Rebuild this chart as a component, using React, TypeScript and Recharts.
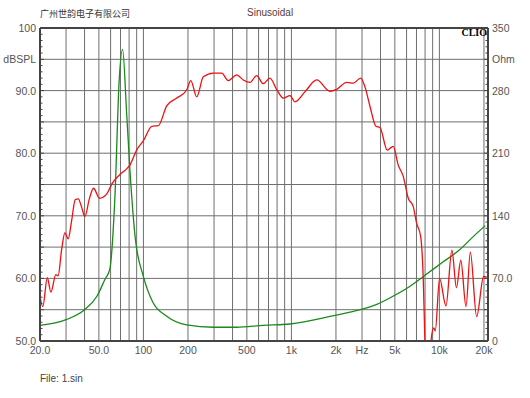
import { LineChart, Line, XAxis, YAxis, CartesianGrid, ReferenceLine } from "recharts";

// SPL response (Hz, dBSPL)
const splFreq = [
  20, 20.9, 22.4, 23.7, 25.6, 26.5, 28, 29.5, 31, 32.8, 34.6, 36.3, 38.1, 40.2, 43.1, 46, 50.5, 56.6,
  61.2, 69.4, 73.6, 77, 81, 90, 100, 114, 126, 144, 168, 196, 209, 229, 254, 297, 338, 374, 427, 473,
  525, 582, 645, 716, 794, 881, 978, 1057, 1234, 1482, 1822, 2022, 2362, 2618, 2936, 3140, 3394, 3727,
  3966, 4440, 4875, 5270, 5700, 6160, 6650, 7020, 7470, 7780, 7980, 8300, 8770, 9160, 9370, 10030,
  11070, 12150, 13030, 13950, 15130, 16180, 17850, 19900, 20900,
];
const splDb = [
  57.1, 55.5, 60.1, 57.8, 60.6, 60.4, 64.6, 67.3, 66.3, 69.4, 72.6, 72.7, 71.5, 69.9, 72.7, 74.4, 72.8,
  73.5, 75.1, 76.6, 77.1, 77.5, 78.1, 80.5, 82.0, 84.3, 84.4, 87.6, 88.8, 90.1, 91.6, 89.0, 92.2, 92.8,
  92.8, 91.6, 92.5, 91.7, 91.3, 92.4, 91.1, 92.0, 90.2, 88.8, 89.2, 88.2, 89.8, 91.7, 89.9, 90.2, 91.3,
  91.2, 92.0, 90.6, 87.5, 84.3, 84.1, 80.5, 81.1, 78.1, 76.3, 72.8, 71.5, 68.8, 66.7, 59.8, 50, 38, 50,
  52.1, 51.6, 60.0, 55.6, 64.5, 58.5, 62.9, 55.5, 64.2, 53.9, 60.3, 60.2,
];

// impedance (Hz, Ohm)
const impFreq = [
  20, 30, 40, 48.5, 55, 59.2, 64.2, 68.6, 72.3, 77, 81, 87.8, 100, 116, 143, 196, 296, 426, 644, 977,
  1900, 2920, 3780, 4850, 6300, 8080, 10500, 13700, 17000, 20400,
];
const impOhm = [
  17.5, 23.8, 35, 50, 69, 80, 162, 292, 326, 255, 192, 117, 72, 43, 28, 18, 15.4, 15.4, 17.5, 19, 28, 35,
  41, 50, 61, 74, 88, 102, 117, 129,
];

const freqTicks = [20, 50, 100, 200, 500, 1000, 2000, 3000, 5000, 10000, 20000];
const freqLabels = ["20.0", "50.0", "100", "200", "500", "1k", "2k", "Hz", "5k", "10k", "20k"];
const freqGrid = [
  30, 40, 50, 60, 70, 80, 90, 100, 200, 300, 400, 500, 600, 700, 800, 900, 1000, 2000, 3000, 4000, 5000,
  6000, 7000, 8000, 9000, 10000, 20000,
];
const dbGrid = [55, 60, 65, 70, 75, 80, 85, 90, 95];
const dbLabelValues = [50, 60, 70, 80, 90, 95, 100];
const dbLabels = ["50.0", "60.0", "70.0", "80.0", "90.0", "dBSPL", "100"];
const ohmLabelValues = [0, 70, 140, 210, 280, 315, 350];
const ohmLabels = ["0", "70.0", "140", "210", "280", "Ohm", "350"];

const splData = splFreq.map((f, i) => ({ f, spl: splDb[i] }));
const impData = impFreq.map((f, i) => ({ f, ohm: impOhm[i] }));

const dbMinor: number[] = [];
for (let v = 50; v <= 100; v++) dbMinor.push(v);
const ohmMinor: number[] = [];
for (let v = 0; v <= 350; v += 7) ohmMinor.push(v);

const font = '"Liberation Sans", Arial, sans-serif';
const textColor = "#555";
const frame = "#444";

function LeftTick(props: any) {
  const { x, y, payload } = props;
  const v = payload.value;
  const ax = x + 4;
  const idx = dbLabelValues.indexOf(v);
  return (
    <g>
      <line x1={ax} x2={ax + (v % 5 === 0 ? 4 : 2.5)} y1={y} y2={y} stroke={frame} />
      {idx >= 0 && (
        <text x={x} y={y} dy={4} textAnchor="end" fontSize={10.5} fontFamily={font} fill={textColor}>
          {dbLabels[idx]}
        </text>
      )}
    </g>
  );
}

function RightTick(props: any) {
  const { x, y, payload } = props;
  const v = payload.value;
  const ax = x - 4;
  const idx = ohmLabelValues.findIndex((o) => Math.abs(o - v) < 0.01);
  return (
    <g>
      <line x1={ax} x2={ax - (v % 35 === 0 ? 4 : 2.5)} y1={y} y2={y} stroke={frame} />
      {idx >= 0 && (
        <text x={x} y={y} dy={4} textAnchor="start" fontSize={10.5} fontFamily={font} fill={textColor}>
          {ohmLabels[idx]}
        </text>
      )}
    </g>
  );
}

export default function App() {
  return (
    <div style={{ position: "absolute", left: 0, top: 0, width: 530, height: 398, background: "#fff" }}>
      <div style={{ position: "absolute", left: 40, top: 7, fontSize: 9, fontFamily: '"Noto Sans CJK SC", sans-serif', color: "#333" }}>
        广州世韵电子有限公司
      </div>
      <div style={{ position: "absolute", left: 247, top: 7, fontSize: 10, fontFamily: font, color: "#5a3a3a" }}>
        Sinusoidal
      </div>
      <LineChart width={530} height={398} margin={{ top: 28, right: 5, left: 5, bottom: 37 }}>
        <CartesianGrid horizontalValues={dbGrid} verticalValues={freqGrid} stroke="#6f6f6f" strokeWidth={1} />
        <XAxis
          dataKey="f"
          type="number"
          scale="log"
          domain={[20, 21300]}
          ticks={freqTicks}
          allowDataOverflow
          height={20}
          interval={0}
          tickSize={0}
          tickMargin={6}
          tickLine={false}
          axisLine={{ stroke: frame, strokeWidth: 2 }}
          tickFormatter={(v: number) => freqLabels[freqTicks.indexOf(v)] ?? ""}
          tick={{ fontSize: 10.5, fontFamily: font, fill: textColor }}
        />
        <YAxis
          type="number"
          domain={[50, 100]}
          ticks={dbMinor}
          allowDataOverflow
          interval={0}
          width={35}
          tickSize={0}
          tickMargin={4}
          tickLine={false}
          axisLine={{ stroke: frame, strokeWidth: 2 }}
          tick={LeftTick}
        />
        <YAxis
          yAxisId="ohm"
          orientation="right"
          type="number"
          domain={[0, 350]}
          ticks={ohmMinor}
          allowDataOverflow
          interval={0}
          width={37}
          tickSize={0}
          tickMargin={4}
          tickLine={false}
          axisLine={{ stroke: frame, strokeWidth: 2 }}
          tick={RightTick}
        />
        <ReferenceLine y={100} stroke={frame} strokeWidth={2} />
        <Line
          data={impData}
          yAxisId="ohm"
          dataKey="ohm"
          type="monotone"
          stroke="#1a8a1a"
          strokeWidth={1.3}
          dot={false}
          isAnimationActive={false}
        />
        <Line
          data={splData}
          dataKey="spl"
          type="monotone"
          stroke="#ee1111"
          strokeWidth={1.3}
          dot={false}
          isAnimationActive={false}
        />
      </LineChart>
      <div style={{ position: "absolute", right: 43, top: 27, fontSize: 10, fontWeight: "bold", fontFamily: '"Liberation Serif", serif', color: "#000" }}>
        CLIO
      </div>
      <div style={{ position: "absolute", left: 40, top: 373, fontSize: 10, fontFamily: font, color: "#444" }}>
        File: 1.sin
      </div>
    </div>
  );
}
